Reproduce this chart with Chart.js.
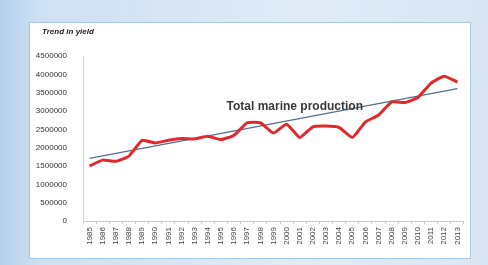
<!DOCTYPE html>
<html>
<head>
<meta charset="utf-8">
<script src="https://cdn.jsdelivr.net/npm/chart.js@4"></script>
<style>
  html, body { margin: 0; padding: 0; }
  body {
    width: 488px; height: 265px; overflow: hidden; position: relative;
    background: linear-gradient(90deg, #b6d0ea 0px, #cfe0f2 40px, #e0ebf7 300px, #d9e6f4 488px);
  }
  #box {
    position: absolute; left: 29px; top: 22px; width: 440px; height: 235px;
    background: #fff; border: 1px solid #a8c7e6;
  }
  #myChart { display: block; }
</style>
</head>
<body>
<div id="box"><canvas id="myChart" width="440" height="235"></canvas></div>
<script>
// anos (eixo x)
var years = ['1985', '1986', '1987', '1988', '1989', '1990', '1991', '1992', '1993', '1994',
  '1995', '1996', '1997', '1998', '1999', '2000', '2001', '2002', '2003', '2004',
  '2005', '2006', '2007', '2008', '2009', '2010', '2011', '2012', '2013'];

// produção marinha total
var production = [1500000, 1660000, 1630000, 1770000, 2200000, 2130000, 2200000, 2250000, 2240000, 2310000,
  2220000, 2340000, 2680000, 2680000, 2400000, 2640000, 2280000, 2570000, 2590000, 2550000,
  2280000, 2700000, 2890000, 3250000, 3230000, 3370000, 3760000, 3950000, 3790000];

// linha de tendência: valor no primeiro e no último ano
var trendEnds = [1710000, 3610000];

// eixo y
var yTicks = [0, 500000, 1000000, 1500000, 2000000, 2500000, 3000000, 3500000, 4000000, 4500000];

var chartTitle = 'Trend in yield';
var seriesLabel = 'Total marine production';

var trendData = years.map(function (y, i) {
  if (i === 0) return trendEnds[0];
  if (i === years.length - 1) return trendEnds[1];
  return null;
});

// título e rótulo da série desenhados à mão
var textPlugin = {
  id: 'textPlugin',
  afterDraw: function (chart) {
    var ctx = chart.ctx;
    var xs = chart.scales.x, ys = chart.scales.y;
    ctx.save();
    ctx.fillStyle = '#222';
    ctx.font = 'italic bold 8px "Liberation Sans", Arial, sans-serif';
    ctx.textBaseline = 'middle';
    ctx.textAlign = 'left';
    ctx.fillText(chartTitle, 12, 9);

    ctx.fillStyle = '#3a3a3a';
    ctx.font = 'bold 12px "Liberation Sans", Arial, sans-serif';
    ctx.textBaseline = 'alphabetic';
    ctx.fillText(seriesLabel, xs.getPixelForValue(10.43), ys.getPixelForValue(3020000));
    ctx.restore();
  }
};

var ctx = document.getElementById('myChart');
var myChart = new Chart(ctx, {
  type: 'line',
  data: {
    labels: years,
    datasets: [{
      label: 'Trend',
      data: trendData,
      borderColor: '#52708f',
      borderWidth: 1.3,
      pointRadius: 0,
      spanGaps: true,
      order: 2
    }, {
      label: seriesLabel,
      data: production,
      borderColor: '#e0282d',
      borderWidth: 3,
      pointRadius: 0,
      tension: 0.15,
      order: 1
    }]
  },
  options: {
    responsive: false,
    animation: false,
    layout: { padding: { top: 33, right: 1, left: 0, bottom: 0 } },
    plugins: {
      legend: { display: false },
      tooltip: { enabled: false }
    },
    scales: {
      x: {
        offset: true,
        grid: { drawOnChartArea: false, drawTicks: true, tickLength: 3, color: '#cfcfcf', offset: true },
        border: { color: '#c8c8c8' },
        ticks: {
          autoSkip: false, minRotation: 90, maxRotation: 90, padding: 3,
          color: '#444', font: { size: 8, family: '"Liberation Sans", Arial, sans-serif' }
        },
        afterFit: function (scale) { scale.height = 37; }
      },
      y: {
        min: 0,
        max: 4500000,
        afterBuildTicks: function (scale) {
          scale.ticks = yTicks.map(function (v) { return { value: v }; });
        },
        grid: { display: false },
        border: { display: true, color: '#d4d4d4' },
        ticks: {
          padding: 8,
          color: '#333',
          font: { size: 8, family: '"Liberation Sans", Arial, sans-serif' },
          callback: function (v) { return String(v); }
        },
        afterFit: function (scale) { scale.width = 53; }
      }
    }
  },
  plugins: [textPlugin]
});
</script>
</body>
</html>
